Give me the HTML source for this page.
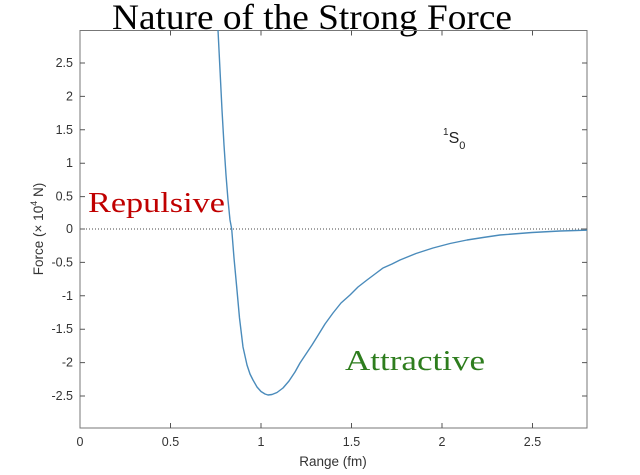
<!DOCTYPE html>
<html><head><meta charset="utf-8"><style>
body{margin:0;background:#fff;width:640px;height:475px;overflow:hidden}
svg{display:block}
</style></head><body>
<svg width="640" height="475" xmlns="http://www.w3.org/2000/svg">
<rect width="640" height="475" fill="#fff"/>
<text x="112" y="29" textLength="400" lengthAdjust="spacingAndGlyphs" font-family="Liberation Serif, serif" font-size="36" fill="#000">Nature of the Strong Force</text>
<g stroke="#555" stroke-width="1" fill="none">
<rect x="80" y="30.5" width="507" height="397.5" stroke="#777"/>
<line x1="80" y1="229" x2="587" y2="229" stroke="#444" stroke-dasharray="1,2"/>
<path d="M170.5 428v-5M261 428v-5M351.5 428v-5M442 428v-5M532.5 428v-5"/>
<path d="M170.5 30.5v5M261 30.5v5M351.5 30.5v5M442 30.5v5M532.5 30.5v5"/>
<path d="M80 63h5M80 96.4h5M80 129.8h5M80 163.2h5M80 196.6h5M80 229h5M80 262.4h5M80 295.8h5M80 329.2h5M80 362.6h5M80 396h5"/>
<path d="M587 63h-5M587 96.4h-5M587 129.8h-5M587 163.2h-5M587 196.6h-5M587 229h-5M587 262.4h-5M587 295.8h-5M587 329.2h-5M587 362.6h-5M587 396h-5"/>
</g>
<g font-family="Liberation Sans, sans-serif" font-size="12.5" fill="#333" text-anchor="end">
<text x="73" y="67">2.5</text><text x="73" y="100.5">2</text><text x="73" y="134">1.5</text><text x="73" y="167">1</text><text x="73" y="200.5">0.5</text><text x="73" y="233">0</text><text x="73" y="266.5">-0.5</text><text x="73" y="300">-1</text><text x="73" y="333">-1.5</text><text x="73" y="366.5">-2</text><text x="73" y="400">-2.5</text>
</g>
<g font-family="Liberation Sans, sans-serif" font-size="12.5" fill="#333" text-anchor="middle">
<text x="80" y="446">0</text><text x="170.5" y="446">0.5</text><text x="261" y="446">1</text><text x="351.5" y="446">1.5</text><text x="442" y="446">2</text><text x="532.5" y="446">2.5</text>
<text x="333" y="466" font-size="13.5">Range (fm)</text>
<text transform="translate(43,229) rotate(-90)" font-size="13.5">Force (× 10<tspan font-size="9" dy="-6">4</tspan><tspan dy="6"> N)</tspan></text>
</g>
<text x="443" y="143" font-family="Liberation Sans, sans-serif" font-size="16" fill="#222"><tspan font-size="10" dy="-8">1</tspan><tspan dy="8">S</tspan><tspan font-size="11" dy="6">0</tspan></text>
<text x="88" y="212" textLength="137" lengthAdjust="spacingAndGlyphs" font-family="Liberation Serif, serif" font-size="28" fill="#c00000">Repulsive</text>
<text x="345" y="370" textLength="140" lengthAdjust="spacingAndGlyphs" font-family="Liberation Serif, serif" font-size="28" fill="#2e7d1e">Attractive</text>
<polyline fill="none" stroke="#4a8bbb" stroke-width="1.4" stroke-linejoin="round" points="218,30 220,70 222,110 224,145 226,175 228,200 230,220 231.7,229 234,258 236.7,287 239.5,318 243,347 247,365 250,374 253,380 257,387 261,391.5 265,394 268,395 272,394.5 277,392.5 283,388 289,381 295,372 300,363 306,354 312,345 317,337 325,324 333,313 341,303 350,295 358,287 367,280 375,274 383,268 392,264 400,260 416,253.5 433,248 450,243.5 467,240 483,237.5 500,235 532,232.5 560,231 587,230.2"/>
</svg>
</body></html>
